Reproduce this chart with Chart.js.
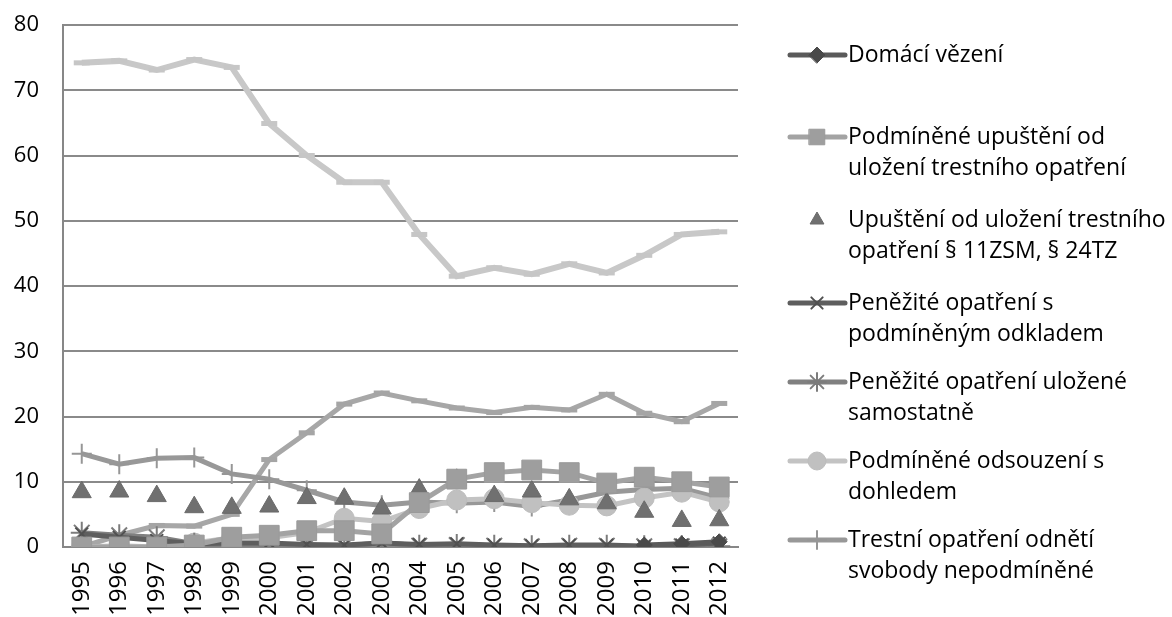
<!DOCTYPE html>
<html>
<head>
<meta charset="utf-8">
<script src="https://cdn.jsdelivr.net/npm/chart.js@4.4.0/dist/chart.umd.min.js"></script>
<style>
html,body{margin:0;padding:0;background:#fff;}
#wrap{width:1172px;height:617px;position:relative;}
</style>
</head>
<body>
<div id="wrap"><canvas id="c" width="1172" height="617"></canvas></div>
<script>
const years = ['1995','1996','1997','1998','1999','2000','2001','2002','2003','2004','2005','2006','2007','2008','2009','2010','2011','2012'];
const yTicks = [0,10,20,30,40,50,60,70,80];

const domaciVezeni      = [null,null,null,null,null,null,null,null,null,null,null,null,null,null,null,0.3,0.5,0.8];
const podmUpusteni      = [0,0,0,0.3,1.5,1.8,2.5,2.5,2.0,6.8,10.4,11.4,11.8,11.4,9.8,10.7,10.0,9.2];
const upusteni          = [8.4,8.5,7.8,6.1,6.0,6.2,7.5,7.4,5.9,8.8,10.3,7.8,8.5,7.3,6.7,5.4,4.0,4.1];
const penezitePodm      = [2.0,1.5,1.0,0.5,0.6,0.6,0.4,0.3,0.6,0.4,0.5,0.3,0.2,0.3,0.3,0.1,0.3,0.6];
const penEziteSamost    = [2.2,1.8,1.5,0.5,0.2,0.2,0.1,0.1,0.7,0.2,0.3,0.2,0.1,0.2,0.2,0.1,0.1,0.1];
const podmOdsDohled     = [0,0.2,0,0.6,1.4,1.4,2.2,4.4,3.9,5.9,7.2,7.4,6.8,6.4,6.3,7.5,8.4,6.9];
const odnetiNepodm      = [14.3,12.7,13.6,13.7,11.2,10.4,8.7,6.9,6.4,6.9,6.7,6.9,6.2,7.2,8.4,8.8,9.0,7.5];
const obecneProspesne   = [0,1.8,3.3,3.2,5.0,13.4,17.5,21.9,23.6,22.4,21.3,20.6,21.4,21.0,23.4,20.5,19.2,22.0];
const podmOdsouzeni     = [74.2,74.5,73.1,74.7,73.5,64.9,60.0,55.9,55.9,47.9,41.5,42.8,41.8,43.4,42.0,44.7,47.9,48.3];

const legendLines = [
  ['Domácí vězení'],
  ['Podmíněné upuštění od','uložení trestního opatření'],
  ['Upuštění od uložení trestního','opatření § 11ZSM, § 24TZ'],
  ['Peněžité opatření s','podmíněným odkladem'],
  ['Peněžité opatření uložené','samostatně'],
  ['Podmíněné odsouzení s','dohledem'],
  ['Trestní opatření odnětí','svobody nepodmíněné']
];

const FONT = '"Open Sans", "Noto Sans", sans-serif';

const datasets = [
  {label:'Domácí vězení', data:domaciVezeni, borderColor:'#5a5a5a', backgroundColor:'#5a5a5a', borderWidth:5,
   pointStyle:'rectRot', pointRadius:8, pointBorderWidth:1, pointBackgroundColor:'#4a4a4a', pointBorderColor:'#4a4a4a', legendRadius:8, inLegend:true},
  {label:'Podmíněné upuštění od uložení trestního opatření', data:podmUpusteni, borderColor:'#a3a3a3', backgroundColor:'#a0a0a0', borderWidth:5,
   pointStyle:'rect', pointRadius:14, pointBorderWidth:1, pointBackgroundColor:'#9e9e9e', pointBorderColor:'#9a9a9a', legendRadius:11, inLegend:true},
  {label:'Upuštění od uložení trestního opatření § 11ZSM, § 24TZ', data:upusteni, showLine:false, borderColor:'#707070', backgroundColor:'#707070', borderWidth:0,
   pointStyle:'triangle', pointRadius:11, pointBorderWidth:1, pointBackgroundColor:'#707070', pointBorderColor:'#6a6a6a', legendRadius:8, inLegend:true},
  {label:'Peněžité opatření s podmíněným odkladem', data:penezitePodm, borderColor:'#5e5e5e', backgroundColor:'#5e5e5e', borderWidth:5,
   pointStyle:'crossRot', pointRadius:9, pointBorderWidth:2, pointBackgroundColor:'#505050', pointBorderColor:'#505050', legendRadius:8, inLegend:true},
  {label:'Peněžité opatření uložené samostatně', data:penEziteSamost, borderColor:'#808080', backgroundColor:'#808080', borderWidth:5,
   pointStyle:'star', pointRadius:11, pointBorderWidth:2, pointBackgroundColor:'#7c7c7c', pointBorderColor:'#7c7c7c', legendRadius:9, inLegend:true},
  {label:'Podmíněné odsouzení s dohledem', data:podmOdsDohled, borderColor:'#c3c3c3', backgroundColor:'#c0c0c0', borderWidth:5,
   pointStyle:'circle', pointRadius:10, pointBorderWidth:1, pointBackgroundColor:'#c0c0c0', pointBorderColor:'#bdbdbd', legendRadius:9, inLegend:true},
  {label:'Trestní opatření odnětí svobody nepodmíněné', data:odnetiNepodm, borderColor:'#989898', backgroundColor:'#989898', borderWidth:5,
   pointStyle:'cross', pointRadius:10, pointBorderWidth:2, pointBackgroundColor:'#969696', pointBorderColor:'#969696', legendRadius:9, inLegend:true},
  {label:'Obecně prospěšné opatření', data:obecneProspesne, borderColor:'#a7a7a7', backgroundColor:'#a7a7a7', borderWidth:5,
   pointStyle:'line', pointRadius:8, pointBorderWidth:5, pointBorderColor:'#a5a5a5', inLegend:false},
  {label:'Podmíněné odsouzení', data:podmOdsouzeni, borderColor:'#c8c8c8', backgroundColor:'#c8c8c8', borderWidth:6,
   pointStyle:'line', pointRadius:8, pointBorderWidth:5, pointBorderColor:'#c6c6c6', inLegend:false}
];
datasets.forEach(d=>{ d.tension=0; d.fill=false; d.pointHoverRadius=d.pointRadius; d.spanGaps=false; });

const legendY = [55,137,220,303,382,461,540];

const customLegend = {
  id:'customLegend',
  afterDraw(chart){
    const ctx = chart.ctx;
    let idx = 0;
    chart.data.datasets.forEach((ds)=>{
      if(!ds.inLegend) return;
      const y = legendY[idx];
      const lines = legendLines[idx];
      idx++;
      const x0 = 790, x1 = 845, xm = 817;
      ctx.save();
      if(ds.showLine !== false){
        ctx.strokeStyle = ds.borderColor; ctx.lineWidth = 5; ctx.lineCap='round';
        ctx.beginPath(); ctx.moveTo(x0,y); ctx.lineTo(x1,y); ctx.stroke();
      }
      ctx.fillStyle = ds.pointBackgroundColor;
      ctx.strokeStyle = ds.pointBorderColor;
      ctx.lineWidth = ds.pointBorderWidth;
      Chart.helpers.drawPoint(ctx, {pointStyle:ds.pointStyle, rotation:0, radius:ds.legendRadius, borderWidth:ds.pointBorderWidth}, xm, y);
      ctx.restore();
      ctx.save();
      ctx.fillStyle = '#000';
      ctx.font = '23px ' + FONT;
      ctx.textBaseline = 'middle';
      ctx.textAlign = 'left';
      lines.forEach((t,k)=>ctx.fillText(t, 848, y + k*31));
      ctx.restore();
    });
  }
};

new Chart(document.getElementById('c'), {
  type:'line',
  data:{labels:years, datasets:datasets},
  options:{
    responsive:false,
    animation:false,
    layout:{padding:{top:25,right:434,left:0,bottom:0}},
    plugins:{legend:{display:false}, tooltip:{enabled:false}},
    scales:{
      x:{
        offset:true,
        grid:{display:false},
        border:{display:true,color:'#878787',width:2},
        ticks:{color:'#000',font:{family:FONT,size:24},maxRotation:90,minRotation:90,autoSkip:false,padding:6},
        afterFit(s){ s.height = 70; s.paddingLeft = 0; s.paddingRight = 0; s.paddingTop = 0; s.paddingBottom = 0; }
      },
      y:{
        min:0,max:80,
        afterBuildTicks(s){ s.ticks = yTicks.map(v=>({value:v})); },
        grid:{color:'#8a8a8a',lineWidth:2,drawTicks:false},
        border:{display:true,color:'#878787',width:2},
        ticks:{color:'#000',font:{family:FONT,size:22},padding:24},
        afterFit(s){ s.width = 63; s.paddingTop = 0; s.paddingBottom = 0; }
      }
    }
  },
  plugins:[customLegend]
});
</script>
</body>
</html>
